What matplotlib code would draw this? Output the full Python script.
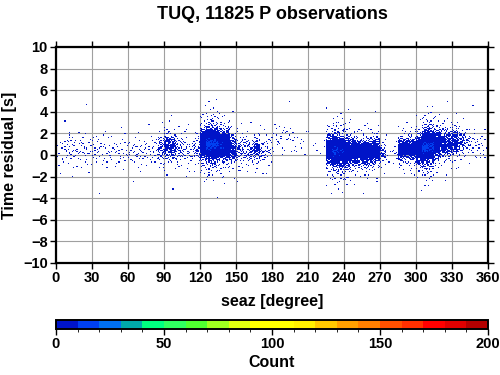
import numpy as np
import matplotlib
matplotlib.use("Agg")
import matplotlib.pyplot as plt
from matplotlib.colors import ListedColormap, BoundaryNorm
from statistics import NormalDist

plt.rcParams["font.family"] = ["Liberation Sans", "DejaVu Sans"]
plt.rcParams["font.weight"] = "bold"

# -------------------------------------------------------------------
# Data: observations per 5-degree azimuth bin,
# with the centre and spread of the residuals in that bin
# -------------------------------------------------------------------
station = "TUQ"
n_obs = 11825
az_edges = np.arange(0, 365, 5)
bin_counts = [10, 15, 20, 15, 15, 15, 15, 12, 12, 10, 12, 12,
              12, 15, 15, 12, 15, 60, 120, 90, 40, 25, 20, 40,
              500, 900, 900, 600, 450, 150, 50, 40, 45, 90, 30, 20,
              10, 10, 8, 8, 5, 3, 2, 2, 3, 300, 800, 700,
              450, 300, 250, 300, 250, 300, 40, 5, 10, 250, 200, 200,
              400, 900, 850, 300, 150, 140, 150, 60, 30, 15, 12, 10]
bin_mean = [0.5, 0.5, 0.6, 0.5, 0.6, 0.5, 0.5, 0.4, 0.4, 0.3, 0.3, 0.3,
            0.3, 0.3, 0.3, 0.3, 0.4, 0.6, 0.8, 0.7, 0.5, 0.5, 0.4, 0.6,
            1.0, 1.0, 1.0, 0.9, 0.9, 0.6, 0.4, 0.5, 0.4, 0.5, 0.3, 0.6,
            1.5, 1.6, 1.8, 1.5, 1.0, 1.0, 1.0, 1.0, 0.5, 0.4, 0.4, 0.3,
            0.2, 0.3, 0.3, 0.2, 0.3, 0.4, 0.2, 0.0, 0.2, 0.5, 0.6, 0.5,
            0.5, 0.7, 0.8, 1.0, 1.1, 1.1, 1.2, 1.1, 1.2, 1.2, 0.8, 0.6]
bin_std = [0.8, 0.8, 0.8, 0.8, 0.8, 0.8, 0.8, 0.8, 0.8, 0.7, 0.7, 0.7,
           0.7, 0.7, 0.7, 0.7, 0.7, 0.6, 0.6, 0.6, 0.7, 0.7, 0.7, 0.7,
           0.6, 0.6, 0.6, 0.55, 0.55, 0.6, 0.7, 0.7, 0.6, 0.5, 0.6, 0.7,
           0.7, 0.7, 0.7, 0.7, 0.7, 0.7, 0.7, 0.7, 0.7, 0.65, 0.6, 0.6,
           0.6, 0.55, 0.5, 0.5, 0.5, 0.5, 0.5, 0.5, 0.5, 0.45, 0.45, 0.5,
           0.55, 0.6, 0.6, 0.6, 0.6, 0.6, 0.6, 0.6, 0.6, 0.7, 0.7, 0.7]

# discrete colour table of the count scale (10 per step)
count_levels = np.arange(0, 210, 10)
count_colors = ["#0014c8", "#0040f0", "#0070f0", "#00aaaa", "#00ff80",
                "#30ff60", "#50ff30", "#a0ff20", "#e0ff10", "#ffff00",
                "#ffff00", "#fff000", "#ffc800", "#ffa000", "#ff8000",
                "#ff5000", "#ff3000", "#ff0000", "#e00000", "#b40000"]


# -------------------------------------------------------------------
# spread each bin's observations over the bin (Halton layout)
# -------------------------------------------------------------------
def halton(i, base):
    f, r = 1.0, 0.0
    while i > 0:
        f /= base
        r += f * (i % base)
        i //= base
    return r


nd = NormalDist()
seaz, resid = [], []
k = 1
for j, n in enumerate(bin_counts):
    for i in range(n):
        u = halton(k, 2)
        v = min(max(halton(k, 3), 1e-4), 1 - 1e-4)
        s = bin_std[j] * (2.3 if k % 7 == 3 else 1.0)
        seaz.append(az_edges[j] + 5 * u)
        resid.append(bin_mean[j] + s * nd.inv_cdf(v))
        k += 1
seaz = np.array(seaz)
resid = np.array(resid)

# 1 degree x 0.1 s cells
H, xe, ye = np.histogram2d(seaz, resid, bins=[np.arange(0, 361, 1),
                                              np.arange(-10, 10.05, 0.1)])
H = np.ma.masked_equal(H, 0)

cmap = ListedColormap(count_colors)
norm = BoundaryNorm(count_levels, cmap.N)

fig = plt.figure(figsize=(5, 3.75), dpi=100)
ax = fig.add_axes([0.112, 0.2987, 0.864, 0.576])
mesh = ax.pcolormesh(xe, ye, H.T, cmap=cmap, norm=norm, zorder=2)

ax.set_xlim(0, 360)
ax.set_ylim(-10, 10)
ax.set_xticks(np.arange(0, 361, 30))
ax.set_yticks(np.arange(-10, 11, 2))
ax.grid(True, color="#a0a0a0", linewidth=0.8, zorder=1)
ax.set_axisbelow(True)
ax.tick_params(direction="out", length=4, width=1, labelsize=10.5,
               top=True, right=True, pad=2)
for sp in ax.spines.values():
    sp.set_linewidth(1.6)
ax.set_xlabel("seaz [degree]", fontsize=11.5, fontweight="bold", labelpad=6)
ax.set_ylabel("Time residual [s]", fontsize=11.5, fontweight="bold", labelpad=4)
ax.set_title(f"{station}, {n_obs} P observations", fontsize=13,
             fontweight="bold", pad=20)

cax = fig.add_axes([0.112, 0.1227, 0.864, 0.024])
cb = fig.colorbar(mesh, cax=cax, orientation="horizontal",
                  ticks=np.arange(0, 201, 50))
cb.outline.set_linewidth(1.4)
cb.ax.tick_params(direction="out", length=4, width=1, labelsize=10.5, pad=2)
cb.set_label("Count", fontsize=11.5, fontweight="bold", labelpad=3)

fig.savefig("out.png", dpi=100)
